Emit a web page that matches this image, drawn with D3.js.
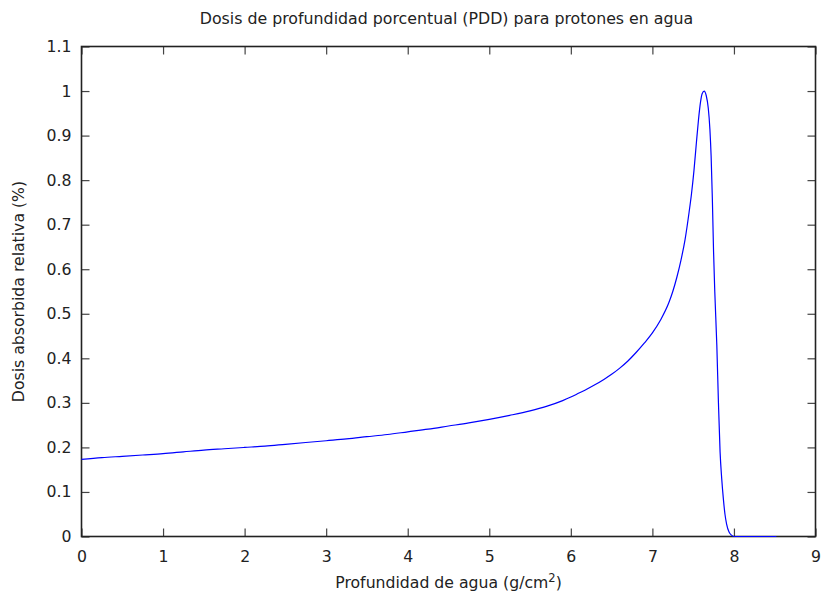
<!DOCTYPE html>
<html>
<head>
<meta charset="utf-8">
<script src="https://cdn.jsdelivr.net/npm/d3@7"></script>
<style>
  body { margin: 0; background: #fff; }
  svg { display: block; }
  text { font-family: "DejaVu Sans", sans-serif; fill: #222; }
</style>
</head>
<body>
<svg id="chart" width="823" height="594"></svg>
<script>
// Depth in water (g/cm^2)
const depth = [0, 0.25, 0.5, 0.75, 1, 1.25, 1.5, 1.75, 2, 2.25, 2.5, 2.75, 3, 3.25, 3.5, 3.75, 4, 4.25, 4.5, 4.75, 5, 5.25, 5.5, 5.7, 5.9, 6.0, 6.1, 6.2, 6.3, 6.4, 6.5, 6.6, 6.7, 6.8, 6.9, 7.0, 7.1, 7.2, 7.25, 7.3, 7.35, 7.4, 7.45, 7.48, 7.51, 7.54, 7.565, 7.59, 7.61, 7.635, 7.66, 7.685, 7.705, 7.72, 7.735, 7.75, 7.765, 7.79, 7.81, 7.83, 7.85, 7.87, 7.89, 7.91, 7.94, 7.97, 8.0, 8.52];
// Relative absorbed dose
const dose  = [0.173, 0.177, 0.180, 0.183, 0.186, 0.190, 0.194, 0.197, 0.200, 0.203, 0.207, 0.211, 0.215, 0.219, 0.224, 0.229, 0.235, 0.241, 0.248, 0.255, 0.263, 0.272, 0.282, 0.292, 0.305, 0.313, 0.322, 0.331, 0.341, 0.352, 0.364, 0.378, 0.394, 0.413, 0.434, 0.457, 0.486, 0.524, 0.550, 0.582, 0.620, 0.666, 0.728, 0.770, 0.822, 0.885, 0.935, 0.975, 0.994, 1.0, 0.99, 0.962, 0.915, 0.855, 0.76, 0.64, 0.55, 0.43, 0.30, 0.19, 0.13, 0.085, 0.05, 0.028, 0.01, 0.003, 0.0, 0.0];

const xTicks = [0, 1, 2, 3, 4, 5, 6, 7, 8, 9];
const yTicks = [0, 0.1, 0.2, 0.3, 0.4, 0.5, 0.6, 0.7, 0.8, 0.9, 1, 1.1];
const yTickLabels = ["0", "0.1", "0.2", "0.3", "0.4", "0.5", "0.6", "0.7", "0.8", "0.9", "1", "1.1"];

const title = "Dosis de profundidad porcentual (PDD) para protones en agua";
const xLabel = "Profundidad de agua (g/cm";
const yLabel = "Dosis absorbida relativa (%)";

const svg = d3.select("#chart");
const L = 81.5, R = 815.5, T = 46.5, B = 536.5;

const x = d3.scaleLinear().domain([0, 9]).range([L, R]);
const y = d3.scaleLinear().domain([0, 1.1]).range([B, T]);

const fs = 15.7;

// Axes (ticks inward, mirrored)
const ax = svg.append("g").attr("transform", `translate(0,${B})`)
  .call(d3.axisBottom(x).tickValues(xTicks).tickFormat(d3.format("d")).tickSizeInner(-8).tickSizeOuter(0).tickPadding(14));
const axT = svg.append("g").attr("transform", `translate(0,${T})`)
  .call(d3.axisTop(x).tickValues(xTicks).tickFormat("").tickSizeInner(-8).tickSizeOuter(0));
const ay = svg.append("g").attr("transform", `translate(${L},0)`)
  .call(d3.axisLeft(y).tickValues(yTicks).tickFormat((d, i) => yTickLabels[i]).tickSizeInner(-8).tickSizeOuter(0).tickPadding(10));
const ayR = svg.append("g").attr("transform", `translate(${R},0)`)
  .call(d3.axisRight(y).tickValues(yTicks).tickFormat("").tickSizeInner(-8).tickSizeOuter(0));

[ax, axT, ay, ayR].forEach(g => {
  g.select(".domain").remove();
  g.selectAll(".tick line").attr("stroke", "#444").attr("stroke-width", 1.2);
  g.selectAll(".tick text").attr("font-family", "DejaVu Sans").attr("font-size", fs).attr("fill", "#222");
});

// Frame
svg.append("rect")
  .attr("x", L).attr("y", T).attr("width", R - L).attr("height", B - T)
  .attr("fill", "none").attr("stroke", "#222").attr("stroke-width", 1.6);

// Data line (drawn over the frame)
const data = depth.map((d, i) => ({ x: d, y: dose[i] }));
svg.append("path")
  .datum(data)
  .attr("fill", "none")
  .attr("stroke", "#0000ff")
  .attr("stroke-width", 1.2)
  .attr("d", d3.line().x(d => x(d.x)).y(d => y(d.y)).curve(d3.curveMonotoneX));

// Title
svg.append("text")
  .attr("x", (L + R) / 2 - 2).attr("y", 24)
  .attr("text-anchor", "middle").attr("font-size", 15.8)
  .text(title);

// X label with superscript
const xl = svg.append("text")
  .attr("x", (L + R) / 2).attr("y", 588)
  .attr("text-anchor", "middle").attr("font-size", fs);
xl.append("tspan").text(xLabel);
xl.append("tspan").attr("dy", -6).attr("font-size", 11.5).text("2");
xl.append("tspan").attr("dy", 6).text(")");

// Y label
svg.append("text")
  .attr("transform", `translate(24,${(T + B) / 2}) rotate(-90)`)
  .attr("text-anchor", "middle").attr("font-size", fs)
  .text(yLabel);
</script>
</body>
</html>
